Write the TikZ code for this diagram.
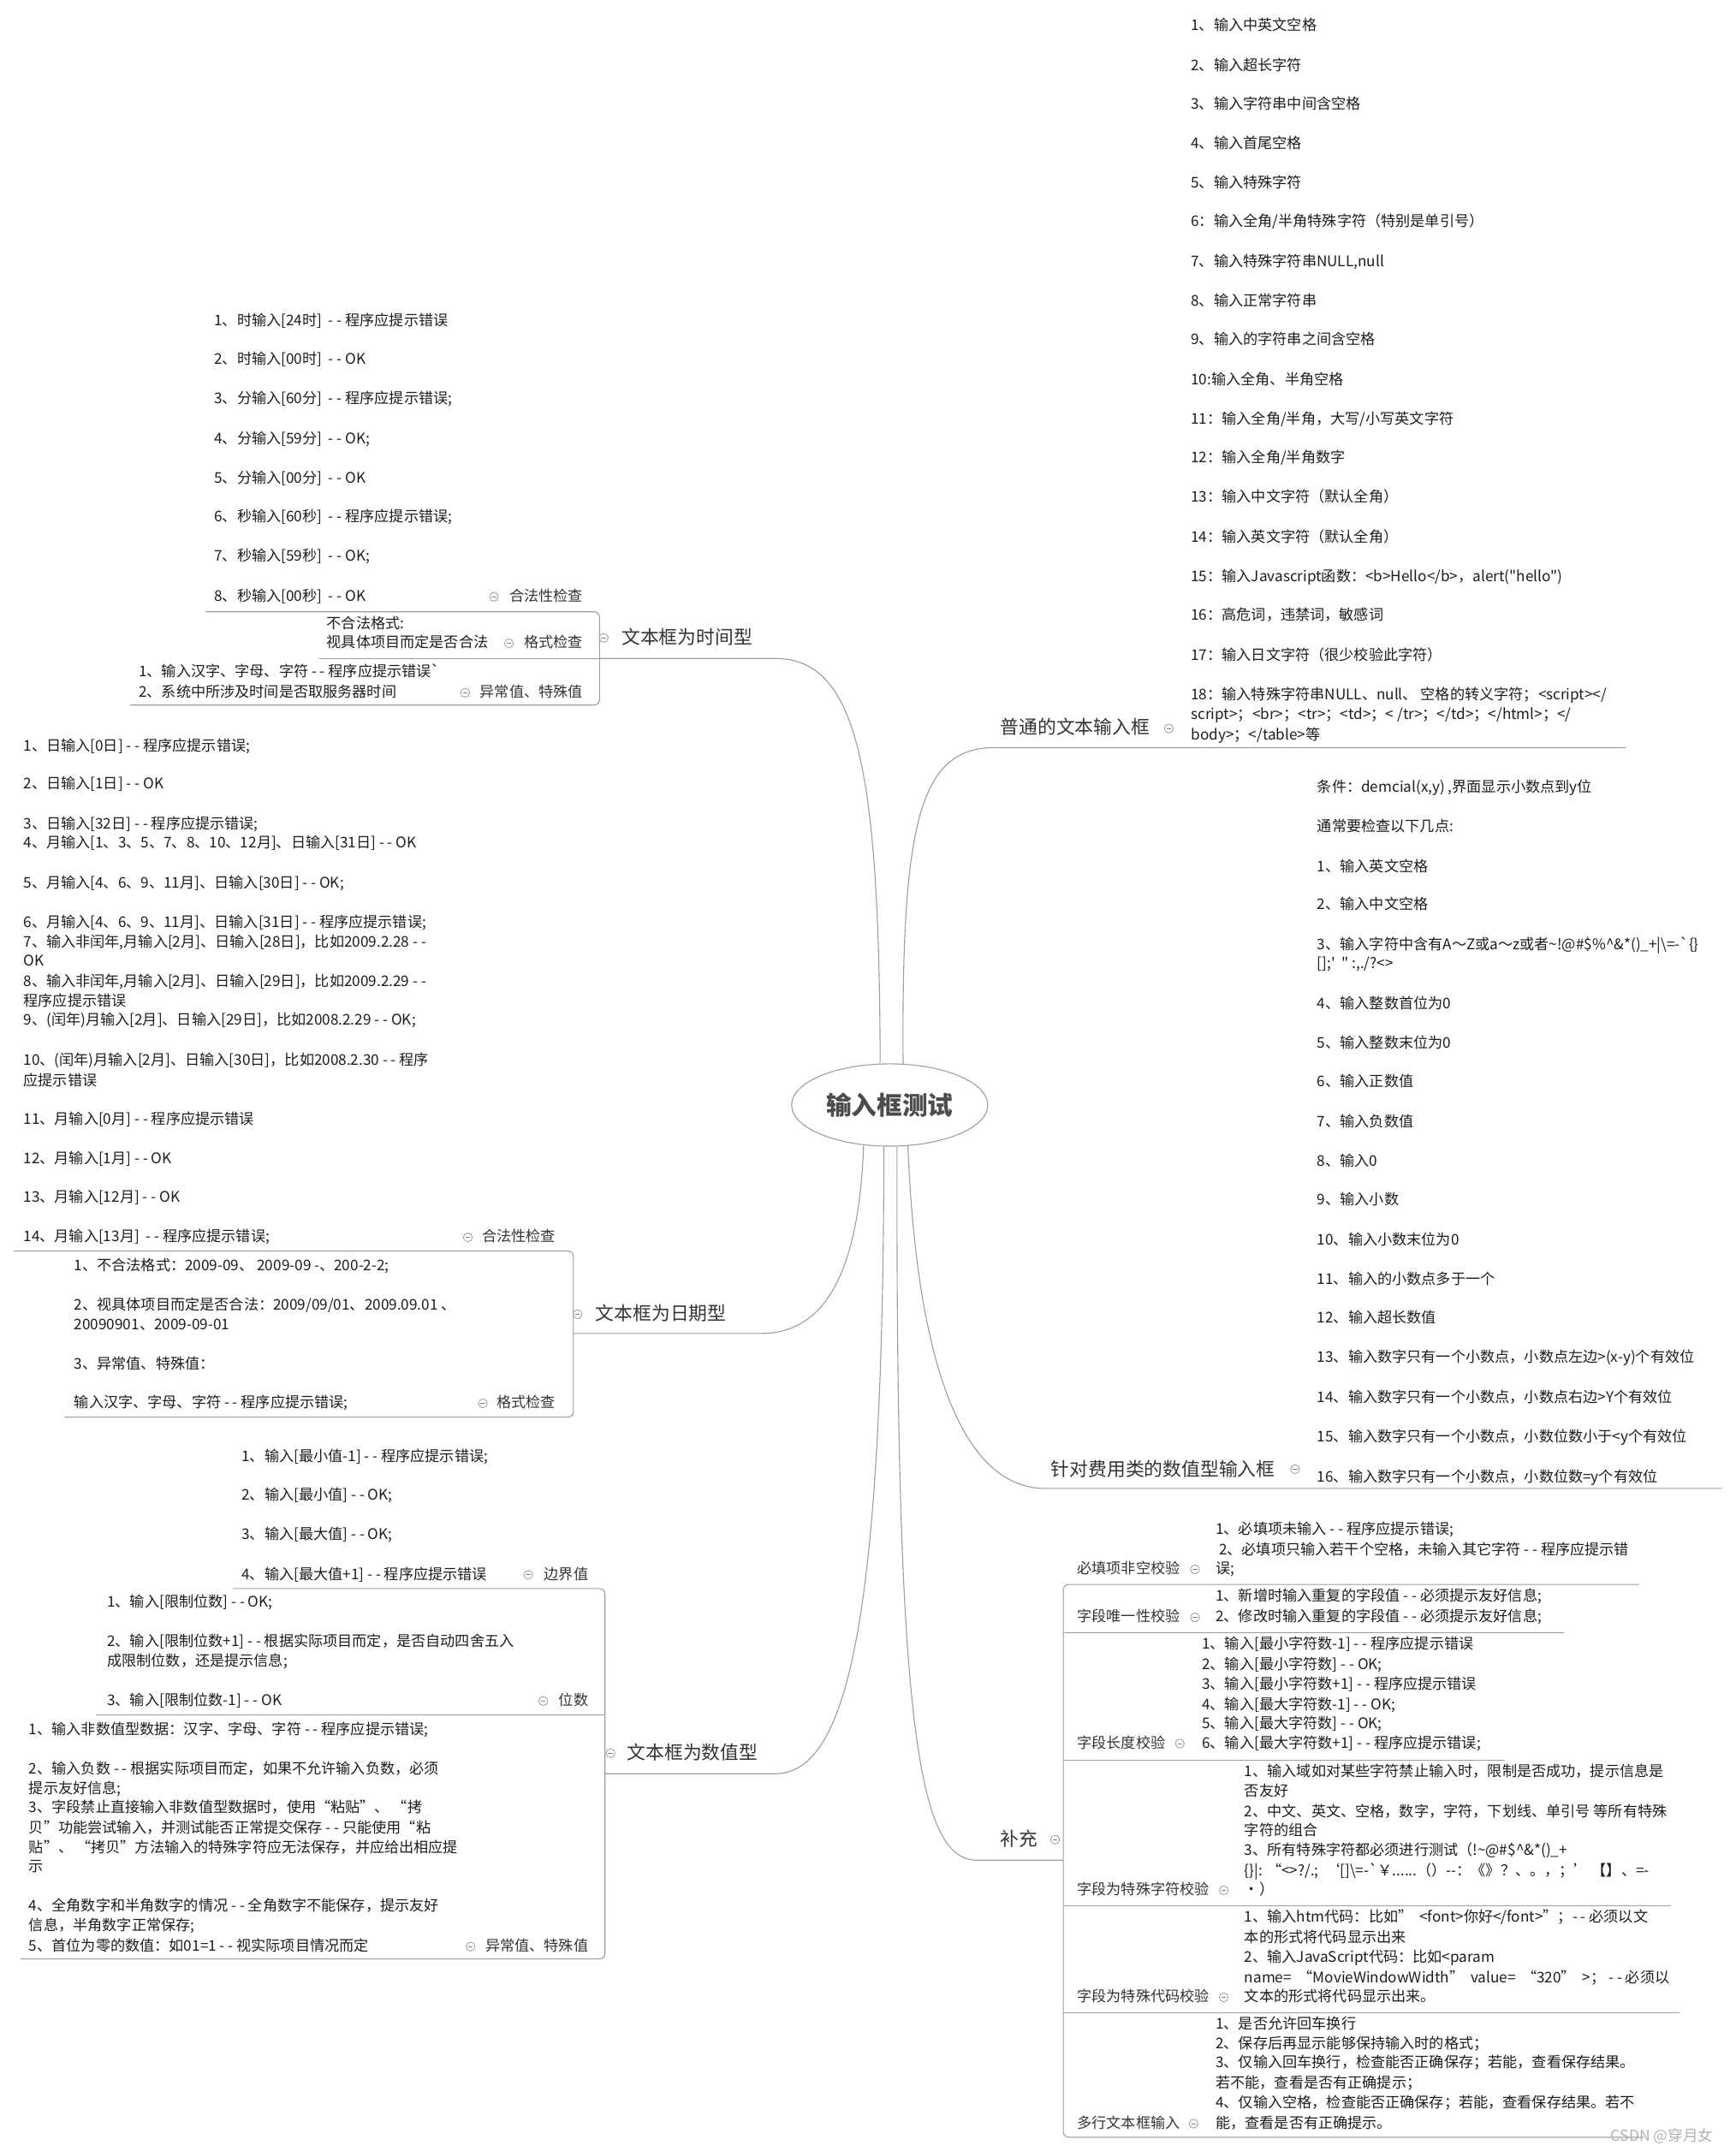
\documentclass[tikz,border=0pt]{standalone}
\usepackage{fontspec}
\newfontfamily\cjk{Noto Sans CJK SC}[Ligatures=TeXOff]
\usetikzlibrary{shapes.geometric}
\definecolor{mmline}{RGB}{158,158,158}
\definecolor{mmtext}{RGB}{28,28,28}
\definecolor{mmtopic}{RGB}{51,51,51}
\tikzset{
  mroot/.style={ellipse, draw=mmline, line width=0.7pt, minimum width=143pt,
                minimum height=60pt, inner sep=0pt,
                font=\cjk\bfseries\fontsize{18.5}{22}\selectfont, text=black!70},
  mtopic/.style={anchor=west, inner sep=0pt, text height=11pt, text depth=2.5pt,
                 font=\cjk\fontsize{13.6}{16}\selectfont, text=mmtopic},
  msub/.style={anchor=west, inner sep=0pt, text height=8.5pt, text depth=2pt,
               font=\cjk\fontsize{10.7}{13}\selectfont, text=mmtopic},
  msubR/.style={msub, anchor=east},
  mitem/.style={anchor=west, inner sep=0pt, text height=8.5pt, text depth=2pt,
                font=\cjk\fontsize{10.7}{13}\selectfont, text=mmtext},
  mfold/.style={circle, draw=black!40, line width=0.5pt, minimum size=6.5pt, inner sep=0pt,
                path picture={\draw[black!50, line width=0.5pt]
                  ([xshift=-1.7pt]path picture bounding box.center) --
                  ([xshift=1.7pt]path picture bounding box.center);}},
  mline/.style={draw=mmline, line width=0.7pt},
  mbrace/.style={mline, rounded corners=4pt},
  mmark/.style={anchor=west, inner sep=0pt, font=\cjk\fontsize{11}{13}\selectfont, text=black!30},
}

\begin{document}
\begin{tikzpicture}[x=1pt, y=-1pt]
  \useasboundingbox (0,0) rectangle (1265,1568);

  % centre
  \node[mroot] (root) at (648.5,805.5) {输入框测试};

  % ---------- right: 普通的文本输入框 ----------
  \node[mtopic] (pt) at (729,531) {普通的文本输入框};
  \node[mfold] (ptf) at (852,531) {};
  \coordinate (ptA) at (725,545);
  \coordinate (ptB) at (1185,545);
  \draw[mline] (root.72) .. controls (657,600) and (670,545) .. (ptA) -- (ptB);
  \foreach \ty/\tx [count=\k] in {
    19/{1、输入中英文空格},
    48/{2、输入超长字符},
    76/{3、输入字符串中间含空格},
    105/{4、输入首尾空格},
    134/{5、输入特殊字符},
    162/{6：输入全角/半角特殊字符（特别是单引号）},
    191/{7、输入特殊字符串NULL,null},
    220/{8、输入正常字符串},
    248/{9、输入的字符串之间含空格},
    277/{10:输入全角、半角空格},
    306/{11：输入全角/半角，大写/小写英文字符},
    334/{12：输入全角/半角数字},
    363/{13：输入中文字符（默认全角）},
    392/{14：输入英文字符（默认全角）},
    421/{15：输入Javascript函数：<b>Hello</b>，alert("hello")},
    449/{16：高危词，违禁词，敏感词},
    478/{17：输入日文字符（很少校验此字符）},
    507/{18：输入特殊字符串NULL、null、 空格的转义字符；<script></},
    521/{script>；<br>；<tr>；<td>；< /tr>；</td>；</html>；</},
    536/{body>；</table>等}} {
    \node[mitem] (pt\k) at (868,\ty) {\tx};
  }

  % ---------- right: 针对费用类的数值型输入框 ----------
  \node[mtopic] (fy) at (766,1072) {针对费用类的数值型输入框};
  \node[mfold] (fyf) at (944,1071) {};
  \coordinate (fyA) at (762,1085);
  \coordinate (fyB) at (1255,1085);
  \draw[mline] (root.294) .. controls (668,990) and (700,1085) .. (fyA) -- (fyB);
  \foreach \ty/\tx [count=\k] in {
    574/{条件：demcial(x,y) ,界面显示小数点到y位},
    603/{通常要检查以下几点:},
    632/{1、输入英文空格},
    660/{2、输入中文空格},
    689/{3、输入字符中含有A～Z或a～z或者\textasciitilde!@\#\$\%\textasciicircum\&*()\_+|\textbackslash=-`\{\}},
    703/{[];'\ \ "\ :,./?<>},
    732/{4、输入整数首位为0},
    761/{5、输入整数末位为0},
    789/{6、输入正数值},
    818/{7、输入负数值},
    847/{8、输入0},
    875/{9、输入小数},
    904/{10、输入小数末位为0},
    933/{11、输入的小数点多于一个},
    961/{12、输入超长数值},
    990/{13、输入数字只有一个小数点，小数点左边>(x-y)个有效位},
    1019/{14、输入数字只有一个小数点，小数点右边>Y个有效位},
    1048/{15、输入数字只有一个小数点，小数位数小于<y个有效位},
    1077/{16、输入数字只有一个小数点，小数位数=y个有效位}} {
    \node[mitem] (fy\k) at (960,\ty) {\tx};
  }

  % ---------- right: 补充 ----------
  \node[mtopic] (bc) at (729,1341) {补充};
  \node[mfold] (bcf) at (769,1341) {};
  \coordinate (bcA) at (712,1356);
  \coordinate (bcB) at (775,1356);
  \draw[mline] (root.280) .. controls (653,1250) and (668,1356) .. (bcA) -- (bcB);
  \draw[mbrace] (1195,1155) -- (775,1155) -- (775,1558) -- (1198,1558);
  \draw[mline] (775,1190) -- (1140,1190);
  \draw[mline] (775,1283) -- (1097,1283);
  \draw[mline] (775,1389) -- (1218,1389);
  \draw[mline] (775,1467) -- (1224,1467);

  \node[msub] (bc1) at (785,1144) {必填项非空校验};
  \node[mfold] at (871,1144) {};
  \foreach \ty/\tx [count=\k] in {
    1115/{1、必填项未输入 - - 程序应提示错误;},
    1130/{\ 2、必填项只输入若干个空格，未输入其它字符 - - 程序应提示错},
    1144/{误;}} {
    \node[mitem] (bc1-\k) at (886,\ty) {\tx};
  }
  \node[msub] (bc2) at (785,1179) {字段唯一性校验};
  \node[mfold] at (871,1179) {};
  \foreach \ty/\tx [count=\k] in {
    1164/{1、新增时输入重复的字段值 - - 必须提示友好信息;},
    1179/{2、修改时输入重复的字段值 - - 必须提示友好信息;}} {
    \node[mitem] (bc2-\k) at (886,\ty) {\tx};
  }
  \node[msub] (bc3) at (785,1271) {字段长度校验};
  \node[mfold] at (860,1271) {};
  \foreach \ty/\tx [count=\k] in {
    1199/{1、输入[最小字符数-1] - - 程序应提示错误},
    1214/{2、输入[最小字符数] - - OK;},
    1228/{3、输入[最小字符数+1] - - 程序应提示错误},
    1243/{4、输入[最大字符数-1] - - OK;},
    1257/{5、输入[最大字符数] - - OK;},
    1271/{6、输入[最大字符数+1] - - 程序应提示错误;}} {
    \node[mitem] (bc3-\k) at (876,\ty) {\tx};
  }
  \node[msub] (bc4) at (785,1378) {字段为特殊字符校验};
  \node[mfold] at (892,1378) {};
  \foreach \ty/\tx [count=\k] in {
    1292/{1、输入域如对某些字符禁止输入时，限制是否成功，提示信息是},
    1306/{否友好},
    1321/{2、中文、英文、空格，数字，字符，下划线、单引号 等所有特殊},
    1335/{字符的组合},
    1349/{3、所有特殊字符都必须进行测试（!\textasciitilde@\#\$\textasciicircum\&*()\_+},
    1364/{\{\}|: “<>?/.;\ \ ‘[]\textbackslash=-`￥......（）--：《》？、。，；’\ 【】、=-},
    1378/{·）}} {
    \node[mitem] (bc4-\k) at (907,\ty) {\tx};
  }
  \node[msub] (bc5) at (785,1456) {字段为特殊代码校验};
  \node[mfold] at (892,1456) {};
  \foreach \ty/\tx [count=\k] in {
    1398/{1、输入htm代码：比如”\ \ <font>你好</font>”；- - 必须以文},
    1413/{本的形式将代码显示出来},
    1427/{2、输入JavaScript代码：比如<param},
    1442/{name=\ \ “MovieWindowWidth”\ \ value=\ \ “320”\ \ >； - - 必须以},
    1456/{文本的形式将代码显示出来。}} {
    \node[mitem] (bc5-\k) at (907,\ty) {\tx};
  }
  \node[msub] (bc6) at (785,1548) {多行文本框输入};
  \node[mfold] at (870,1548) {};
  \foreach \ty/\tx [count=\k] in {
    1476/{1、是否允许回车换行},
    1490/{2、保存后再显示能够保持输入时的格式；},
    1504/{3、仅输入回车换行，检查能否正确保存；若能，查看保存结果。},
    1519/{若不能，查看是否有正确提示；},
    1533/{4、仅输入空格，检查能否正确保存；若能，查看保存结果。若不},
    1548/{能，查看是否有正确提示。}} {
    \node[mitem] (bc6-\k) at (886,\ty) {\tx};
  }

  % ---------- left: 文本框为时间型 ----------
  \node[mtopic] (tm) at (453,465) {文本框为时间型};
  \node[mfold] (tmf) at (440,465) {};
  \coordinate (tmA) at (565,480);
  \coordinate (tmB) at (437,480);
  \draw[mline] (root.103) .. controls (641,560) and (625,480) .. (tmA) -- (tmB);
  \draw[mbrace] (150,446) -- (437,446) -- (437,514) -- (95,514);
  \draw[mline] (233,480) -- (tmB);

  \node[msubR] (tm1) at (425,435) {合法性检查};
  \node[mfold] at (360,435) {};
  \foreach \ty/\tx [count=\k] in {
    234/{1、时输入[24时]\ \ - - 程序应提示错误},
    262/{2、时输入[00时]\ \ - - OK},
    291/{3、分输入[60分]\ \ - - 程序应提示错误;},
    320/{4、分输入[59分]\ \ - - OK;},
    349/{5、分输入[00分]\ \ - - OK},
    377/{6、秒输入[60秒]\ \ - - 程序应提示错误;},
    406/{7、秒输入[59秒]\ \ - - OK;},
    435/{8、秒输入[00秒]\ \ - - OK}} {
    \node[mitem] (tm1-\k) at (156,\ty) {\tx};
  }
  \node[msubR] (tm2) at (425,469) {格式检查};
  \node[mfold] at (371,469) {};
  \node[mitem] (tm2-1) at (238,455) {不合法格式:};
  \node[mitem] (tm2-2) at (238,469) {视具体项目而定是否合法};
  \node[msubR] (tm3) at (425,505) {异常值、特殊值};
  \node[mfold] at (339,505) {};
  \node[mitem] (tm3-1) at (101,490) {1、输入汉字、字母、字符 - - 程序应提示错误`};
  \node[mitem] (tm3-2) at (101,505) {2、系统中所涉及时间是否取服务器时间};

  % ---------- left: 文本框为日期型 ----------
  \node[mtopic] (dt) at (434,958) {文本框为日期型};
  \node[mfold] (dtf) at (421,958) {};
  \coordinate (dtA) at (555,972);
  \coordinate (dtB) at (418,972);
  \draw[mline] (root.237) .. controls (626,930) and (600,972) .. (dtA) -- (dtB);
  \draw[mbrace] (10,912) -- (418,912) -- (418,1033) -- (47,1033);

  \node[msubR] (dt1) at (405,902) {合法性检查};
  \node[mfold] at (341,902) {};
  \foreach \ty/\tx [count=\k] in {
    544/{1、日输入[0日] - - 程序应提示错误;},
    572/{2、日输入[1日] - - OK},
    601/{3、日输入[32日] - - 程序应提示错误;},
    615/{4、月输入[1、3、5、7、8、10、12月]、日输入[31日] - - OK},
    644/{5、月输入[4、6、9、11月]、日输入[30日] - - OK;},
    673/{6、月输入[4、6、9、11月]、日输入[31日] - - 程序应提示错误;},
    687/{7、输入非闰年,月输入[2月]、日输入[28日]，比如2009.2.28 - -},
    701/{OK},
    716/{8、输入非闰年,月输入[2月]、日输入[29日]，比如2009.2.29 - -},
    730/{程序应提示错误},
    744/{9、(闰年)月输入[2月]、日输入[29日]，比如2008.2.29 - - OK;},
    773/{10、(闰年)月输入[2月]、日输入[30日]，比如2008.2.30 - - 程序},
    788/{应提示错误},
    816/{11、月输入[0月] - - 程序应提示错误},
    845/{12、月输入[1月] - - OK},
    873/{13、月输入[12月] - - OK},
    902/{14、月输入[13月]\ \ - - 程序应提示错误;}} {
    \node[mitem] (dt1-\k) at (17,\ty) {\tx};
  }
  \node[msubR] (dt2) at (405,1023) {格式检查};
  \node[mfold] at (352,1023) {};
  \foreach \ty/\tx [count=\k] in {
    923/{1、不合法格式：2009-09、 2009-09 -、200-2-2;},
    952/{2、视具体项目而定是否合法：2009/09/01、2009.09.01 、},
    966/{20090901、2009-09-01},
    995/{3、异常值、特殊值：},
    1023/{输入汉字、字母、字符 - - 程序应提示错误;}} {
    \node[mitem] (dt2-\k) at (54,\ty) {\tx};
  }

  % ---------- left: 文本框为数值型 ----------
  \node[mtopic] (nm) at (457,1278) {文本框为数值型};
  \node[mfold] (nmf) at (445,1278) {};
  \coordinate (nmA) at (565,1293);
  \coordinate (nmB) at (441,1293);
  \draw[mline] (root.262) .. controls (644,1180) and (618,1293) .. (nmA) -- (nmB);
  \draw[mbrace] (170,1158) -- (441,1158) -- (441,1428) -- (15,1428);
  \draw[mline] (70,1250) -- (441,1250);

  \node[msubR] (nm1) at (429,1148) {边界值};
  \node[mfold] at (385,1148) {};
  \foreach \ty/\tx [count=\k] in {
    1062/{1、输入[最小值-1] - - 程序应提示错误;},
    1090/{2、输入[最小值] - - OK;},
    1119/{3、输入[最大值] - - OK;},
    1148/{4、输入[最大值+1] - - 程序应提示错误}} {
    \node[mitem] (nm1-\k) at (176,\ty) {\tx};
  }
  \node[msubR] (nm2) at (429,1240) {位数};
  \node[mfold] at (396,1240) {};
  \foreach \ty/\tx [count=\k] in {
    1168/{1、输入[限制位数] - - OK;},
    1197/{2、输入[限制位数+1] - - 根据实际项目而定，是否自动四舍五入},
    1211/{成限制位数，还是提示信息;},
    1240/{3、输入[限制位数-1] - - OK}} {
    \node[mitem] (nm2-\k) at (78,\ty) {\tx};
  }
  \node[msubR] (nm3) at (429,1419) {异常值、特殊值};
  \node[mfold] at (343,1419) {};
  \foreach \ty/\tx [count=\k] in {
    1261/{1、输入非数值型数据：汉字、字母、字符 - - 程序应提示错误;},
    1290/{2、输入负数 - - 根据实际项目而定，如果不允许输入负数，必须},
    1304/{提示友好信息;},
    1318/{3、字段禁止直接输入非数值型数据时，使用“粘贴”、 “拷},
    1333/{贝”功能尝试输入，并测试能否正常提交保存 - - 只能使用“粘},
    1347/{贴”、 “拷贝”方法输入的特殊字符应无法保存，并应给出相应提},
    1361/{示},
    1390/{4、全角数字和半角数字的情况 - - 全角数字不能保存，提示友好},
    1404/{信息，半角数字正常保存;},
    1419/{5、首位为零的数值：如01=1 - - 视实际项目情况而定}} {
    \node[mitem] (nm3-\k) at (21,\ty) {\tx};
  }

  \node[mmark] (wm) at (1174,1557) {CSDN @穿月女};
\end{tikzpicture}
\end{document}
